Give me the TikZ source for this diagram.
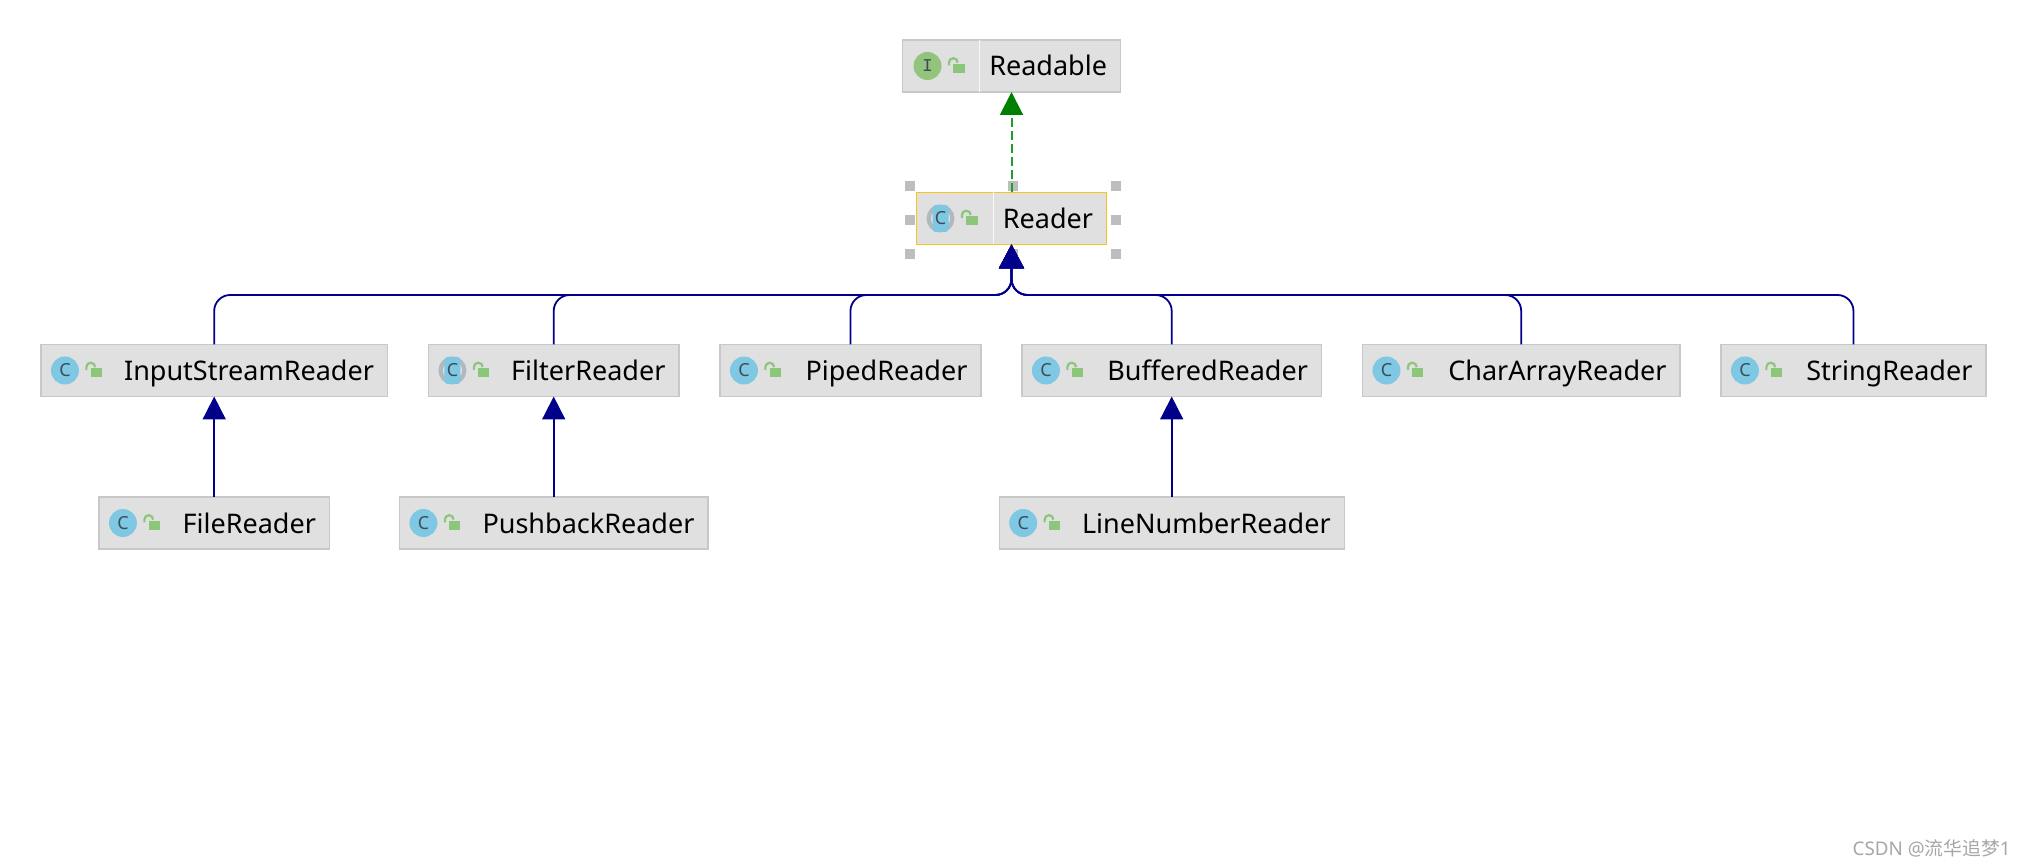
\documentclass[tikz,border=0pt]{standalone}
\usepackage{fontspec}
\setmainfont{Noto Sans}
\setmonofont{Liberation Mono}
\newfontfamily\cjkfont{Noto Sans CJK SC}
\usetikzlibrary{arrows.meta,positioning}
\definecolor{boxgray}{HTML}{E0E0E0}
\definecolor{edgegray}{HTML}{C8C8C8}
\definecolor{handlegray}{HTML}{BDBDBD}
\definecolor{ringgray}{HTML}{B0B8C0}
\definecolor{iconblue}{HTML}{7EC8E3}
\definecolor{icongreen}{HTML}{93C47D}
\definecolor{lockgreen}{HTML}{8CC67A}
\definecolor{letterdark}{HTML}{3E4C58}
\definecolor{selyellow}{HTML}{F5C518}
\definecolor{linkblue}{HTML}{00008B}
\definecolor{headgreen}{HTML}{008000}
\definecolor{dashgreen}{HTML}{1F9E2F}
\tikzset{
  classbox/.style={draw=edgegray, fill=boxgray, line width=0.6pt, minimum height=26pt, inner xsep=6.75pt, inner ysep=0pt, outer sep=0pt, text width=#1-13.5pt, align=right, text height=12pt, text depth=2pt, font=\fontsize{13.5}{16}\selectfont},
  classicon/.style={circle, fill=iconblue, minimum size=14pt, inner sep=0pt, text=letterdark, font=\fontsize{9}{9}\selectfont},
  ifaceicon/.style={circle, fill=icongreen, minimum size=14pt, inner sep=0pt, text=letterdark, font=\ttfamily\fontsize{9}{9}\selectfont},
  abstractring/.style={circle, draw=ringgray, line width=2.1pt, minimum size=11.9pt, inner sep=0pt},
  abstractstripe/.style={fill=iconblue, rounded corners=1.5pt, minimum width=8pt, minimum height=13.5pt, inner sep=0pt, text=letterdark, font=\fontsize{9}{9}\selectfont},
  handle/.style={fill=handlegray, minimum size=5pt, inner sep=0pt},
  selframe/.style={minimum width=103pt, minimum height=34pt, inner sep=0pt, outer sep=0pt},
  divider/.style={draw=black!3, line width=0.5pt},
  extendsarrow/.style={draw=linkblue, line width=0.9pt, -{Triangle[length=11.5pt,width=11.5pt,color=linkblue]}},
  implementsarrow/.style={draw=dashgreen, line width=1pt, dash pattern=on 4.5pt off 2pt, -{Triangle[length=11.5pt,width=11.5pt,color=headgreen]}},
  lockicon/.pic={
    \fill[lockgreen] (12.85pt,1pt) rectangle (18.5pt,-3.5pt);
    \draw[lockgreen, line width=1.1pt] (10.7pt,0.3pt) -- (10.7pt,1.7pt) arc[start angle=180, end angle=0, radius=2.2pt];
  }
}
\begin{document}
\begin{tikzpicture}[node distance=50.25pt and 20.5pt]
\useasboundingbox (0,0) rectangle (1013pt,-433pt);
\node[classbox=109pt] (readable) at (505.75pt,-33pt) {Readable};
\node[classbox=95pt, below=of readable, draw=selyellow] (reader) {Reader};
\node[selframe] (sel) at ([shift={(0.5pt,-0.65pt)}]reader) {};
\foreach \a [count=\i] in {north west,north,north east,west,east,south west,south,south east}
  \node[handle] (h\i) at (sel.\a) {};

\node[classbox=173.25pt] (inputstream) at (107.1pt,-185.25pt) {InputStreamReader};
\node[classbox=125.25pt, right=of inputstream] (filter) {FilterReader};
\node[classbox=130.5pt, right=of filter] (piped) {PipedReader};
\node[classbox=149.75pt, right=of piped] (buffered) {BufferedReader};
\node[classbox=158.75pt, right=of buffered] (chararray) {CharArrayReader};
\node[classbox=132.5pt, right=of chararray] (string) {StringReader};

\node[classbox=115.25pt, below=of inputstream] (file) {FileReader};
\node[classbox=154.25pt, below=of filter] (pushback) {PushbackReader};
\node[classbox=172.5pt, below=of buffered] (linenumber) {LineNumberReader};

\foreach \n in {reader,filter} {
  \node[abstractring] (\n-ring) at ([xshift=12pt]\n.west) {};
  \node[abstractstripe] (\n-icon) at (\n-ring) {C};
}
\foreach \n in {inputstream,piped,buffered,chararray,string,file,pushback,linenumber}
  \node[classicon] (\n-icon) at ([xshift=12pt]\n.west) {C};
\node[ifaceicon] (readable-icon) at ([xshift=12.5pt]readable.west) {I};
\foreach \n in {readable,reader,inputstream,filter,piped,buffered,chararray,string,file,pushback,linenumber}
  \pic at (\n-icon) {lockicon};
\draw[divider] ([xshift=38.5pt]readable.north west) -- ([xshift=38.5pt]readable.south west);
\draw[divider] ([xshift=38.5pt]reader.north west) -- ([xshift=38.5pt]reader.south west);

\coordinate[below=25.25pt of reader] (bus);
\draw[implementsarrow] (reader) -- (readable);
\foreach \n in {inputstream,filter,piped,buffered,chararray,string}
  \draw[extendsarrow, rounded corners=8pt, -{Triangle[length=12pt,width=12.5pt,color=linkblue]}] (\n.north) |- (bus) -- (reader.south);
\draw[extendsarrow] (file) -- (inputstream);
\draw[extendsarrow] (pushback) -- (filter);
\draw[extendsarrow] (linenumber) -- (buffered);

\node[anchor=east, inner sep=0pt, text=black!35, font=\fontsize{9.4}{10}\selectfont] (mark) at (1005.5pt,-424pt) {CSDN @{\cjkfont 流华追梦}1};
\end{tikzpicture}
\end{document}
